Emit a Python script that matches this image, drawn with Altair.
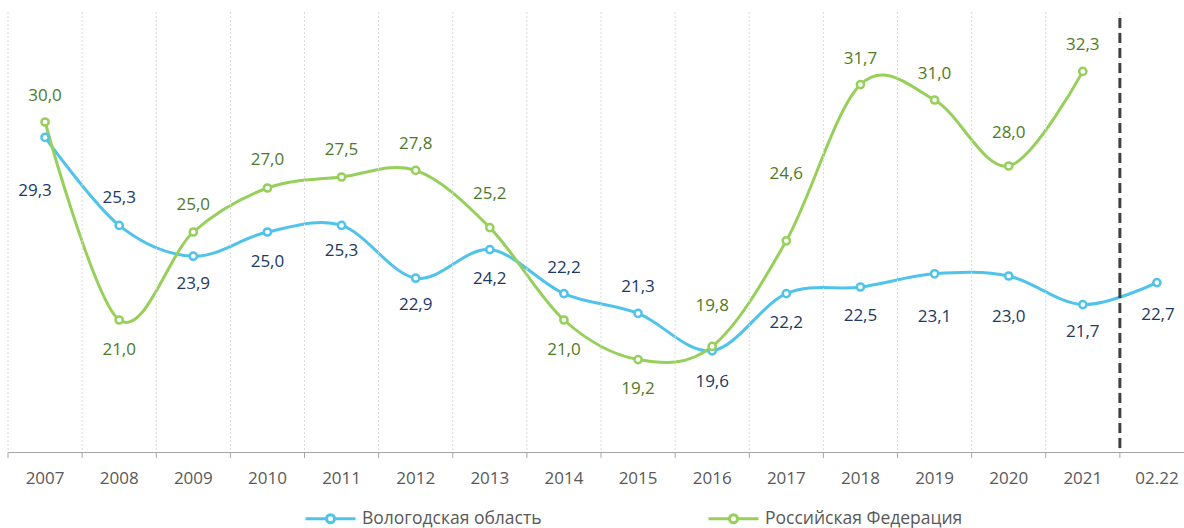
import altair as alt
import pandas as pd

categories = ["2007", "2008", "2009", "2010", "2011", "2012", "2013", "2014",
              "2015", "2016", "2017", "2018", "2019", "2020", "2021", "02.22"]
vologda = [29.3, 25.3, 23.9, 25.0, 25.3, 22.9, 24.2, 22.2, 21.3, 19.6, 22.2, 22.5, 23.1, 23.0, 21.7, 22.7]
russia = [30.0, 21.0, 25.0, 27.0, 27.5, 27.8, 25.2, 21.0, 19.2, 19.8, 24.6, 31.7, 31.0, 28.0, 32.3]
series_names = ["Вологодская область", "Российская Федерация"]

# label placement (pixel offsets from the point), style only
vologda_dx = [-10, 0, 0, 0, 0, 0, 0, 0, 0, 0, 0, 0, 0, 0, 0, 1]
vologda_dy = [54, -27, 28, 30, 26, 27, 29, -26, -26, 31, 29, 29, 43, 41, 27, 32]
russia_dx = [0] * 15
russia_dy = [-26, 30, -27, -28, -27, -26, -34, 30, 29, -40, -67, -26, -26, -33, -26]

line_colors = ["#4FC3EA", "#96D05A"]
label_colors = ["#203864", "#4E7A27"]

rows = []
for s_i, (vals, dxs, dys) in enumerate([(vologda, vologda_dx, vologda_dy), (russia, russia_dx, russia_dy)]):
    for i, v in enumerate(vals):
        rows.append({
            "cat": categories[i],
            "series": series_names[s_i],
            "value": v,
            "label": f"{v:.1f}".replace(".", ","),
            "dx": dxs[i],
            "dy": dys[i],
            "lcolor": label_colors[s_i],
        })
df = pd.DataFrame(rows)

FONT = "Open Sans"
x_scale = alt.Scale(domain=categories, range=[8, 1194], paddingInner=0, paddingOuter=0)
y_scale = alt.Scale(domain=[15, 35], nice=False, zero=False)
color_scale = alt.Scale(domain=series_names, range=line_colors)

x_enc = alt.X("cat:N", sort=categories, scale=x_scale, title=None,
              axis=alt.Axis(grid=False, ticks=False, domainColor="#A6A6A6",
                            labelFont=FONT, labelFontSize=17, labelColor="#595959",
                            labelPadding=18, labelAngle=0, labelAlign="center"))
x_plain = alt.X("cat:N", sort=categories, scale=x_scale, title=None)
y_enc = alt.Y("value:Q", scale=y_scale, axis=None)

legend_path = ("M-1,0H-0.18 M0.18,0H1 "
               "M-0.16,0A0.16,0.16 0 1,0 0.16,0A0.16,0.16 0 1,0 -0.16,0Z")

cat_df = pd.DataFrame({"cat": categories})

grid = alt.Chart(cat_df).mark_rule(strokeDash=[2, 2], color="#D9D9D9", strokeWidth=1).encode(
    x=alt.X("cat:N", sort=categories, scale=x_scale, bandPosition=0, title=None),
    y=alt.value(0), y2=alt.value(440),
)
ticks = alt.Chart(cat_df).mark_rule(color="#A6A6A6", strokeWidth=1).encode(
    x=alt.X("cat:N", sort=categories, scale=x_scale, bandPosition=0, title=None),
    y=alt.value(440), y2=alt.value(446),
)

base = alt.Chart(df)

lines = base.mark_line(interpolate="cardinal", strokeWidth=3).encode(
    x=x_enc, y=y_enc,
    color=alt.Color("series:N", scale=color_scale, sort=series_names,
                    legend=alt.Legend(orient="none", legendX=304, legendY=480,
                                      direction="horizontal", title=None,
                                      symbolType=legend_path, symbolSize=2500,
                                      symbolStrokeWidth=3, symbolFillColor="white",
                                      labelFont=FONT, labelFontSize=17.5, labelColor="#595959",
                                      labelLimit=400, columnPadding=160, labelOffset=5)),
    detail="series:N",
)

points = base.mark_point(filled=True, fill="white", size=52, strokeWidth=2.5, opacity=1).encode(
    x=x_plain, y=y_enc,
    stroke=alt.Stroke("series:N", scale=color_scale, legend=None),
)

label_layers = []
offset_pairs = sorted(set(zip(df["dx"], df["dy"])))
for dx, dy in offset_pairs:
    label_layers.append(
        base.transform_filter(
            (alt.datum.dx == int(dx)) & (alt.datum.dy == int(dy))
        ).mark_text(font=FONT, fontSize=17, baseline="middle", align="center",
                    dx=int(dx), dy=int(dy)).encode(
            x=x_plain, y=y_enc,
            text="label:N",
            color=alt.Color("lcolor:N", scale=None),
        )
    )

rule = alt.Chart(pd.DataFrame({"cat": ["02.22"]})).mark_rule(
    strokeDash=[10, 5], strokeWidth=3, color="#404040").encode(
    x=alt.X("cat:N", sort=categories, scale=x_scale, bandPosition=0, title=None),
    y=alt.value(6), y2=alt.value(440),
)

chart = alt.layer(lines, grid, ticks, rule, points, *label_layers).properties(
    width=1184, height=440,
    background="white",
    autosize=alt.AutoSizeParams(type="none"),
    padding={"left": 0, "top": 12, "right": 0, "bottom": 76},
).configure_view(strokeWidth=0, stroke="transparent")

chart.save("out.html", embed_options={"renderer": "svg", "actions": False})
